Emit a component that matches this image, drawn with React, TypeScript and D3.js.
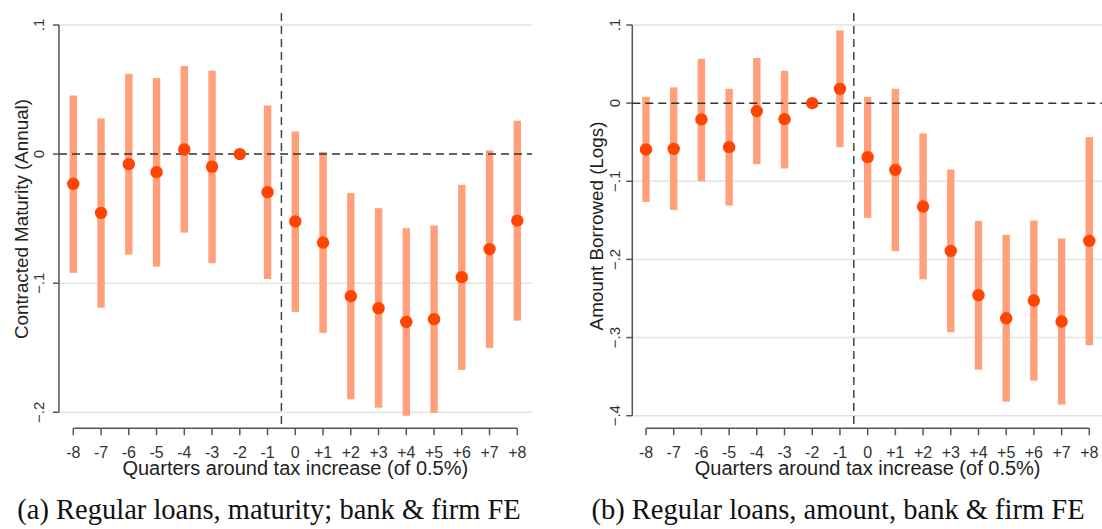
import * as d3 from "d3";
import { useEffect, useRef } from "react";

const quarters = [-8, -7, -6, -5, -4, -3, -2, -1, 0, 1, 2, 3, 4, 5, 6, 7, 8];
const quarterLabels = ["-8", "-7", "-6", "-5", "-4", "-3", "-2", "-1", "0", "+1", "+2", "+3", "+4", "+5", "+6", "+7", "+8"];

// panel (a): contracted maturity
const maturityCoef = [-0.023, -0.0455, -0.0078, -0.014, 0.0036, -0.0098, 0, -0.0295, -0.0522, -0.0685, -0.1101, -0.1194, -0.13, -0.1279, -0.0953, -0.0736, -0.0515];
const maturityHigh = [0.0454, 0.0276, 0.0622, 0.0589, 0.0682, 0.0646, null, 0.0377, 0.0175, 0.0016, -0.0302, -0.0419, -0.0574, -0.0553, -0.0238, 0.0028, 0.0258];
const maturityLow = [-0.092, -0.119, -0.0778, -0.0871, -0.0608, -0.0845, null, -0.0967, -0.1222, -0.1385, -0.1899, -0.1964, -0.2026, -0.2005, -0.1672, -0.1501, -0.129];
const maturityTicks = [0.1, 0, -0.1, -0.2];

// panel (b): amount borrowed
const amountCoef = [-0.0593, -0.0585, -0.0209, -0.0563, -0.0102, -0.0205, 0, 0.0183, -0.0691, -0.0854, -0.1323, -0.1891, -0.2458, -0.2753, -0.2526, -0.2795, -0.1763];
const amountHigh = [0.0081, 0.0201, 0.0567, 0.0183, 0.058, 0.0414, null, 0.0931, 0.0081, 0.0183, -0.0388, -0.0849, -0.1507, -0.1686, -0.1502, -0.1732, -0.0435];
const amountLow = [-0.1264, -0.1366, -0.0999, -0.131, -0.0781, -0.0836, null, -0.0563, -0.1468, -0.1895, -0.2254, -0.2932, -0.341, -0.382, -0.3551, -0.3858, -0.3098];
const amountTicks = [0.1, 0, -0.1, -0.2, -0.3, -0.4];

const fmt = (v: number) => (v === 0 ? "0" : d3.format(".1f")(v).replace("0.", "."));

const sans = "'Liberation Sans', Arial, sans-serif";
const serif = "'Liberation Serif', 'Times New Roman', serif";

type Panel = {
  coef: number[];
  low: (number | null)[];
  high: (number | null)[];
  ticks: number[];
  yDomain: [number, number];
  axisX: number;
  labelOffset: number;
  xRange: [number, number];
  yRange: [number, number];
  plotRight: number;
  yTitle: string;
  yTitleX: number;
  yTitleY: number;
  caption: string;
  captionX: number;
};

const panels: Panel[] = [
  {
    coef: maturityCoef,
    low: maturityLow,
    high: maturityHigh,
    ticks: maturityTicks,
    yDomain: [-0.2, 0.1],
    axisX: 59,
    labelOffset: 15,
    xRange: [73.3, 517.3],
    yRange: [412.3, 25],
    plotRight: 532,
    yTitle: "Contracted Maturity (Annual)",
    yTitleX: 28,
    yTitleY: 219,
    caption: "(a) Regular loans, maturity; bank & firm FE",
    captionX: 269,
  },
  {
    coef: amountCoef,
    low: amountLow,
    high: amountHigh,
    ticks: amountTicks,
    yDomain: [-0.4, 0.1],
    axisX: 632.3,
    labelOffset: 12,
    xRange: [646, 1089.3],
    yRange: [415.7, 25],
    plotRight: 1102,
    yTitle: "Amount Borrowed (Logs)",
    yTitleX: 603,
    yTitleY: 226,
    caption: "(b) Regular loans, amount, bank & firm FE",
    captionX: 838,
  },
];

const App = () => {
  const ref = useRef<SVGSVGElement>(null);

  useEffect(() => {
    const svg = d3.select(ref.current).html("");
    const xAxisY = 428.3;

    panels.forEach((p) => {
      const x = d3.scaleLinear().domain([-8, 8]).range(p.xRange);
      const y = d3.scaleLinear().domain(p.yDomain).range(p.yRange);
      const g = svg.append("g");

      // gridlines
      g.selectAll(".grid")
        .data(p.ticks.filter((t) => t !== 0))
        .enter()
        .append("line")
        .attr("x1", p.axisX)
        .attr("x2", p.plotRight)
        .attr("y1", (d) => y(d))
        .attr("y2", (d) => y(d))
        .attr("stroke", "#e3e3e3")
        .attr("stroke-width", 1.5);

      // y axis
      g.append("line")
        .attr("x1", p.axisX)
        .attr("x2", p.axisX)
        .attr("y1", y(p.yDomain[1]))
        .attr("y2", y(p.yDomain[0]))
        .attr("stroke", "#555")
        .attr("stroke-width", 1.5);
      g.selectAll(".ytick")
        .data(p.ticks)
        .enter()
        .append("line")
        .attr("x1", p.axisX - 6)
        .attr("x2", p.axisX)
        .attr("y1", (d) => y(d))
        .attr("y2", (d) => y(d))
        .attr("stroke", "#555")
        .attr("stroke-width", 1.5);
      g.selectAll(".ylab")
        .data(p.ticks)
        .enter()
        .append("text")
        .attr("transform", (d) => `translate(${p.axisX - p.labelOffset},${y(d)}) rotate(-90)`)
        .attr("text-anchor", "middle")
        .style("font-family", sans)
        .style("font-size", "15px")
        .style("fill", "#333")
        .text((d) => fmt(d));

      // y title
      g.append("text")
        .attr("transform", `translate(${p.yTitleX},${p.yTitleY}) rotate(-90)`)
        .attr("text-anchor", "middle")
        .style("font-family", sans)
        .style("font-size", "18.8px")
        .style("fill", "#222")
        .text(p.yTitle);

      // x axis
      g.append("line")
        .attr("x1", x(-8))
        .attr("x2", x(8))
        .attr("y1", xAxisY)
        .attr("y2", xAxisY)
        .attr("stroke", "#555")
        .attr("stroke-width", 1.5);
      g.selectAll(".xtick")
        .data(quarters)
        .enter()
        .append("line")
        .attr("x1", (d) => x(d))
        .attr("x2", (d) => x(d))
        .attr("y1", xAxisY)
        .attr("y2", xAxisY + 7)
        .attr("stroke", "#555")
        .attr("stroke-width", 1.5);
      g.selectAll(".xlab")
        .data(quarters)
        .enter()
        .append("text")
        .attr("x", (d) => x(d))
        .attr("y", 458)
        .attr("text-anchor", "middle")
        .style("font-family", sans)
        .style("font-size", "16px")
        .style("fill", "#333")
        .text((d, i) => quarterLabels[i]);

      g.append("text")
        .attr("x", (x(-8) + x(8)) / 2)
        .attr("y", 475)
        .attr("text-anchor", "middle")
        .style("font-family", sans)
        .style("font-size", "20px")
        .style("fill", "#222")
        .text("Quarters around tax increase (of 0.5%)");

      // CI bars
      g.selectAll(".ci")
        .data(quarters.filter((q, i) => p.low[i] !== null))
        .enter()
        .append("rect")
        .attr("x", (d) => x(d) - 3.7)
        .attr("width", 7.4)
        .attr("y", (d) => y(p.high[quarters.indexOf(d)] as number))
        .attr("height", (d) => {
          const i = quarters.indexOf(d);
          return y(p.low[i] as number) - y(p.high[i] as number);
        })
        .attr("fill", "#ffa07a");

      // reference lines
      g.append("line")
        .attr("x1", p.axisX)
        .attr("x2", p.plotRight)
        .attr("y1", y(0))
        .attr("y2", y(0))
        .attr("stroke", "#333")
        .attr("stroke-width", 1.5)
        .attr("stroke-dasharray", "8,5");
      g.append("line")
        .attr("x1", x(-0.5))
        .attr("x2", x(-0.5))
        .attr("y1", 13)
        .attr("y2", xAxisY)
        .attr("stroke", "#444")
        .attr("stroke-width", 1.5)
        .attr("stroke-dasharray", "8,5");

      // point estimates
      g.selectAll(".dot")
        .data(quarters)
        .enter()
        .append("circle")
        .attr("cx", (d) => x(d))
        .attr("cy", (d, i) => y(p.coef[i]))
        .attr("r", 6.2)
        .attr("fill", "#ff4500");

      // caption
      svg.append("text")
        .attr("x", p.captionX)
        .attr("y", 519)
        .attr("text-anchor", "middle")
        .style("font-family", serif)
        .style("font-size", "28.5px")
        .style("fill", "#111")
        .text(p.caption);
    });
  }, []);

  return (
    <svg
      ref={ref}
      width={1102}
      height={529}
      style={{ position: "absolute", left: 0, top: 0, background: "#fff" }}
    ></svg>
  );
};

export default App;
